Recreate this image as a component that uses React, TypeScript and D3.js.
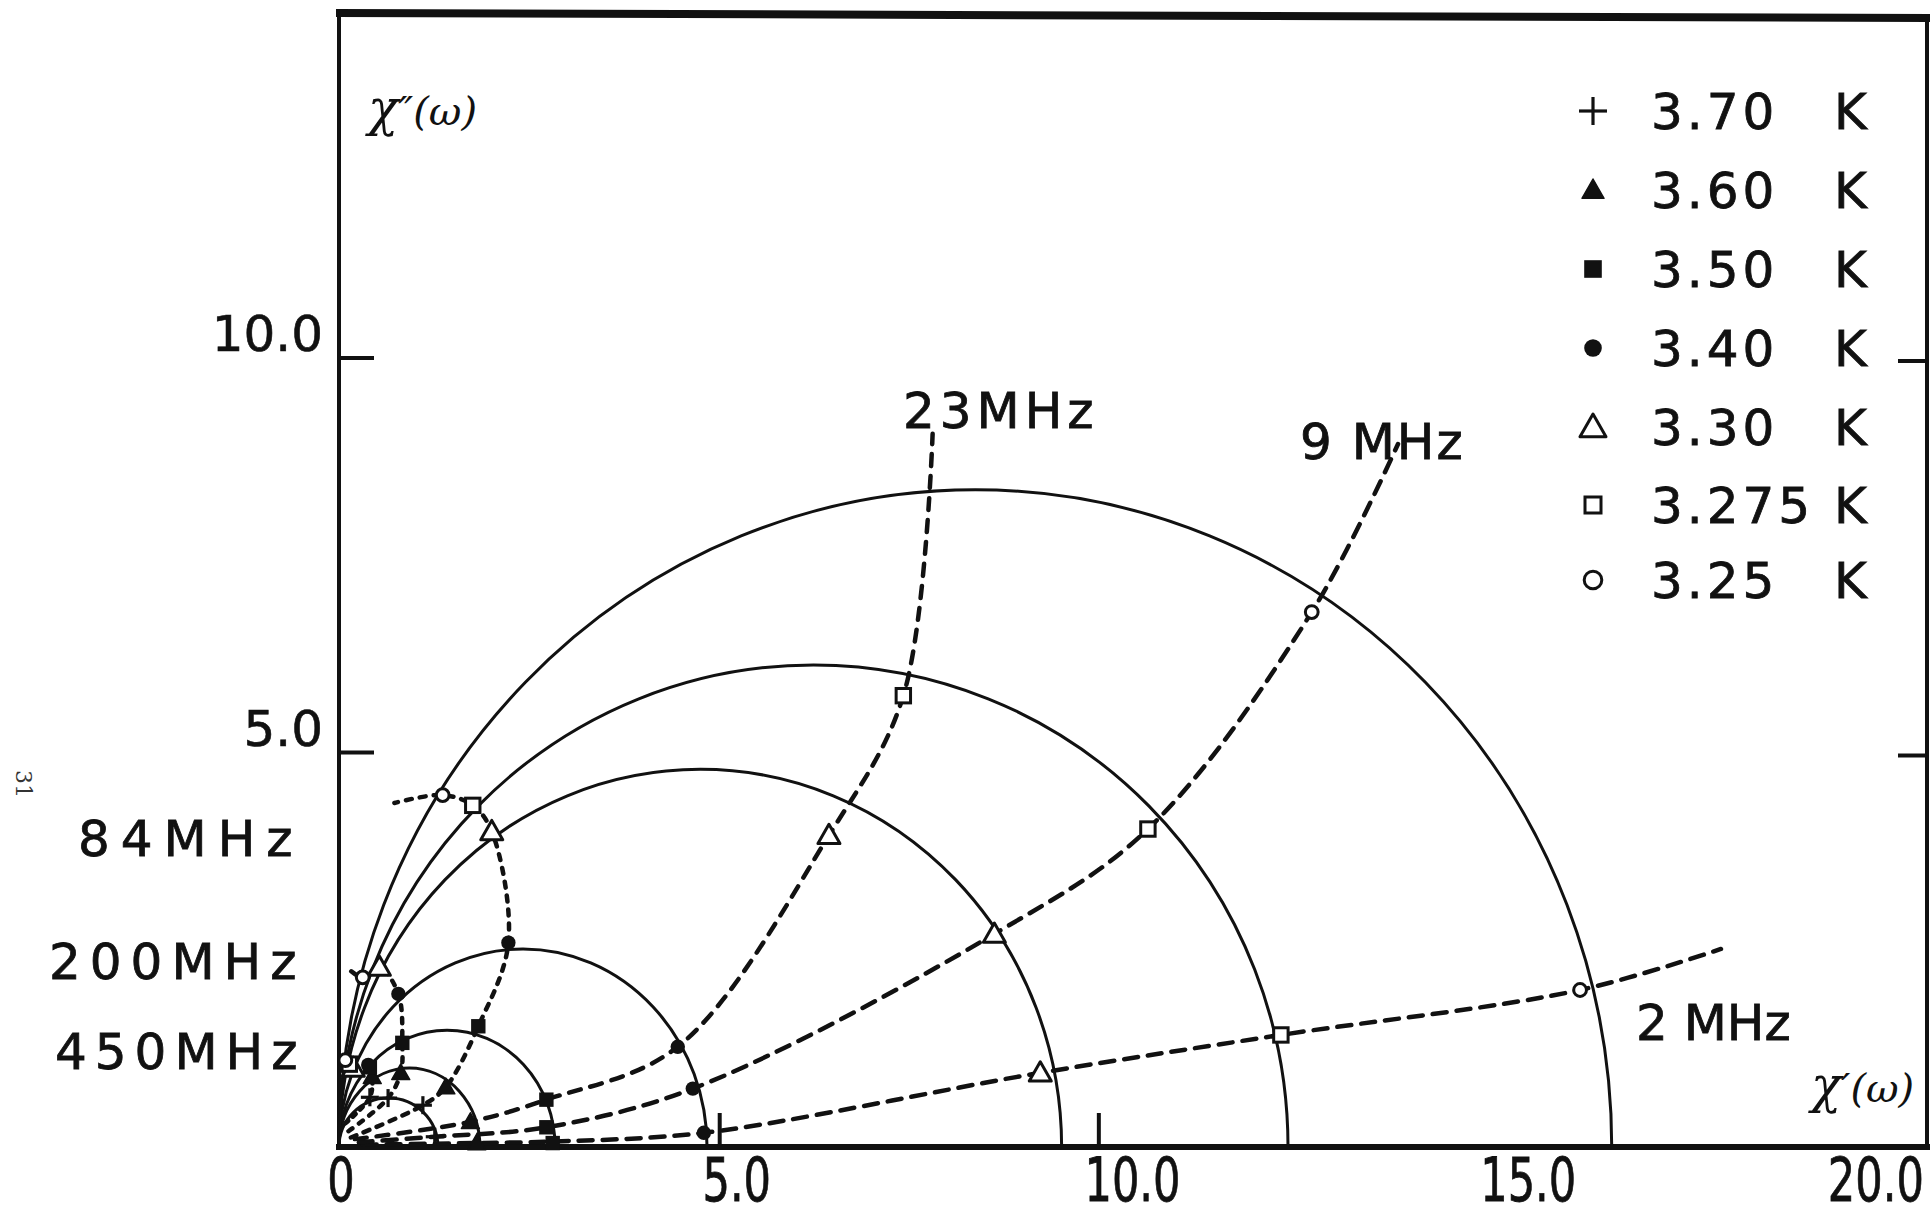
import React from "react";
import * as d3 from "d3";

// ---------- data ----------
const temperatures = ["3.70", "3.60", "3.50", "3.40", "3.30", "3.275", "3.25"];
const symbolKinds = ["plus", "triFill", "sqFill", "circFill", "triOpen", "sqOpen", "circOpen"];
// fitted Cole-Cole arcs: end point on chi' axis and apex height
const arcEnds = [1.25, 1.78, 2.73, 4.65, 9.13, 11.99, 16.08];
const arcHeights = [0.62, 1.0, 1.48, 2.51, 4.79, 6.11, 8.33];

// measured points [chi', chi''] per temperature
const pts370 = [[1.21, 0.13], [1.06, 0.53], [0.62, 0.62], [0.39, 0.63]];
const pts360 = [[1.74, 0.05], [1.66, 0.32], [1.35, 0.76], [0.78, 0.94], [0.42, 0.89]];
const pts350 = [[2.70, 0.05], [2.62, 0.25], [2.62, 0.60], [1.76, 1.53], [0.80, 1.32], [0.39, 1.01]];
const pts340 = [[4.61, 0.18], [4.47, 0.74], [4.28, 1.27], [2.14, 2.59], [0.75, 1.94], [0.37, 1.04]];
const pts330 = [[8.86, 0.94], [8.28, 2.70], [6.19, 3.95], [1.93, 4.0], [0.51, 2.28], [0.18, 1.0]];
const pts3275 = [[11.90, 1.42], [10.22, 4.03], [7.13, 5.72], [1.69, 4.33], [0.13, 1.05]];
const pts325 = [[15.68, 1.99], [12.29, 6.78], [1.31, 4.46], [0.30, 2.15], [0.08, 1.10]];
const seriesPoints = [pts370, pts360, pts350, pts340, pts330, pts3275, pts325];

// constant-frequency lines
const line2 = [[0.3, 0.03], [1.74, 0.05], [2.70, 0.07], [4.61, 0.18], [8.86, 0.94], [11.90, 1.42], [15.68, 1.99], [17.46, 2.51]];
const line9 = [[0.25, 0.06], [1.21, 0.13], [2.62, 0.25], [4.47, 0.74], [8.28, 2.70], [10.22, 4.03], [12.29, 6.78], [13.38, 8.91]];
const line23 = [[0.2, 0.1], [1.66, 0.32], [2.62, 0.60], [4.28, 1.27], [6.19, 3.95], [7.13, 5.72], [7.50, 9.04]];
const line84 = [[0.15, 0.12], [1.06, 0.53], [1.35, 0.76], [1.76, 1.53], [2.14, 2.59], [1.93, 4.0], [1.69, 4.33], [1.31, 4.46], [0.70, 4.36]];
const line200 = [[0.12, 0.2], [0.62, 0.62], [0.78, 0.94], [0.80, 1.32], [0.75, 1.94], [0.51, 2.28], [0.30, 2.15], [0.15, 2.23]];
const line450 = [[0.08, 0.3], [0.39, 0.63], [0.42, 0.89], [0.39, 1.01], [0.37, 1.04], [0.18, 1.0], [0.08, 1.10], [0.02, 1.12]];
const freqLines = [line2, line9, line23, line84, line200, line450];
const freqDash = ["14 10", "14 10", "12 10", "6 8", "5 8", "4 6"];

const freqLabels = ["2 MHz", "9 MHz", "23MHz", "84MHz", "200MHz", "450MHz"];
const xTickLabels = ["0", "5.0", "10.0", "15.0", "20.0"];
const xTickValues = [0, 5, 10, 15, 20];
const yTickLabels = ["5.0", "10.0"];
const yTickValues = [5, 10];
const xTickMarks = [4.81, 9.6];

// ---------- layout ----------
const W = 1932;
const H = 1216;
const x = d3.scaleLinear().domain([0, 20]).range([339, 1922]);
const y = d3.scaleLinear().domain([0, 10]).range([1147, 358]);

const sans = "'DejaVu Sans', 'Noto Sans', sans-serif";
const serif = "'DejaVu Serif', 'Liberation Serif', serif";
const ink = "#111";

function Marker({ kind, cx, cy, s }: { kind: string; cx: number; cy: number; s: number }) {
  const sw = 3;
  if (kind === "plus")
    return (
      <g stroke={ink} strokeWidth={3.2}>
        <line x1={cx - s} x2={cx + s} y1={cy} y2={cy} />
        <line x1={cx} x2={cx} y1={cy - s} y2={cy + s} />
      </g>
    );
  if (kind === "triFill" || kind === "triOpen") {
    const p = `${cx},${cy - s} ${cx + s * 1.0},${cy + s * 0.75} ${cx - s * 1.0},${cy + s * 0.75}`;
    return kind === "triFill" ? (
      <polygon points={p} fill={ink} stroke={ink} strokeWidth={1.5} strokeLinejoin="round" />
    ) : (
      <polygon points={p} fill="#fff" stroke={ink} strokeWidth={sw} strokeLinejoin="round" />
    );
  }
  if (kind === "sqFill" || kind === "sqOpen") {
    const a = s * 0.8;
    return kind === "sqFill" ? (
      <rect x={cx - a} y={cy - a} width={2 * a} height={2 * a} fill={ink} />
    ) : (
      <rect x={cx - a} y={cy - a} width={2 * a} height={2 * a} fill="#fff" stroke={ink} strokeWidth={sw} />
    );
  }
  const r = s * 0.8;
  return kind === "circFill" ? (
    <circle cx={cx} cy={cy} r={r} fill={ink} />
  ) : (
    <circle cx={cx} cy={cy} r={r} fill="#fff" stroke={ink} strokeWidth={sw} />
  );
}

export default function App() {
  const lineGen = d3
    .line<number[]>()
    .x((d) => x(d[0]))
    .y((d) => y(d[1]))
    .curve(d3.curveCatmullRom.alpha(0.5));

  const legendRowsY = [111, 190, 269, 348, 427, 505, 580];
  const legendSizes = [14, 11, 11, 11, 13, 10, 11];
  const markerSizes = [9, 9, 9, 9, 11, 9, 8];

  const freqLabelPos = [
    [1636, 1040, 0],
    [1300, 459, 2],
    [903, 428, 5],
    [78, 856, 11],
    [49, 979, 9],
    [55, 1069, 8],
  ];

  return (
    <svg width={W} height={H} style={{ display: "block", position: "absolute", left: 0, top: 0, background: "#fff" }}>
      <rect width={W} height={H} fill="#fff" />
      {/* frame */}
      <g stroke={ink} fill="none">
        <line x1={339} x2={339} y1={10} y2={1150} strokeWidth={4} />
        <line x1={336} x2={1930} y1={13} y2={18} strokeWidth={8} />
        <line x1={1927} x2={1927} y1={14} y2={1150} strokeWidth={4} />
        <line x1={336} x2={1930} y1={1147} y2={1147} strokeWidth={6} />
        {yTickValues.map((v) => (
          <g key={v}>
            <line x1={339} x2={374} y1={y(v)} y2={y(v)} strokeWidth={4} />
            <line x1={1898} x2={1927} y1={y(v) + 3} y2={y(v) + 3} strokeWidth={4} />
          </g>
        ))}
        {xTickMarks.map((v) => (
          <line key={v} x1={x(v)} x2={x(v)} y1={1113} y2={1147} strokeWidth={4} />
        ))}
      </g>

      {/* arcs */}
      <g fill="none" stroke={ink} strokeWidth={3}>
        {arcEnds.map((c, i) => {
          const rx = x(c / 2) - x(0);
          const ry = y(0) - y(arcHeights[i]);
          return <path key={i} d={`M ${x(0)} ${y(0)} A ${rx} ${ry} 0 0 1 ${x(c)} ${y(0)}`} />;
        })}
      </g>

      {/* constant frequency lines */}
      <g fill="none" stroke={ink} strokeWidth={4.5} strokeLinecap="round">
        {freqLines.map((ln, i) => (
          <path key={i} d={lineGen(ln) || ""} strokeDasharray={freqDash[i]} />
        ))}
      </g>

      {/* data markers */}
      {seriesPoints.map((pts, i) =>
        pts.map((p, j) => (
          <Marker key={`${i}-${j}`} kind={symbolKinds[i]} cx={x(p[0])} cy={y(p[1])} s={markerSizes[i]} />
        ))
      )}

      {/* legend */}
      {temperatures.map((t, i) => (
        <g key={t}>
          <Marker kind={symbolKinds[i]} cx={1593} cy={legendRowsY[i]} s={legendSizes[i]} />
          <text x={1651} y={legendRowsY[i] + 18} fontFamily={sans} fontSize={50} letterSpacing={4} fill={ink} stroke={ink} strokeWidth={0.8}>
            {t}
          </text>
          <text x={1834} y={legendRowsY[i] + 18} fontFamily={sans} fontSize={50} fill={ink} stroke={ink} strokeWidth={0.8}>
            K
          </text>
        </g>
      ))}

      {/* frequency labels */}
      {freqLabels.map((f, i) => (
        <text
          key={f}
          x={freqLabelPos[i][0]}
          y={freqLabelPos[i][1]}
          fontFamily={sans}
          fontSize={50}
          letterSpacing={freqLabelPos[i][2]}
          fill={ink}
          stroke={ink}
          strokeWidth={0.8}
        >
          {f}
        </text>
      ))}

      {/* y tick labels */}
      {yTickValues.map((v, i) => (
        <text key={v} x={323} y={y(v) - 7} textAnchor="end" fontFamily={sans} fontSize={50} fill={ink} stroke={ink} strokeWidth={0.6}>
          {yTickLabels[i]}
        </text>
      ))}

      {/* x tick labels (tall, condensed) */}
      {xTickValues.map((v, i) => {
        const last = i === xTickValues.length - 1;
        return (
          <text
            key={v}
            transform={`translate(${last ? 1924 : x(v) + 2}, 1201) scale(0.72, 1)`}
            textAnchor={last ? "end" : "middle"}
            fontFamily={sans}
            fontSize={60}
            fill={ink}
            stroke={ink}
            strokeWidth={0.8}
          >
            {xTickLabels[i]}
          </text>
        );
      })}

      {/* axis titles */}
      <text x={368} y={125} fontFamily={serif} fontStyle="italic" fontSize={40} fill={ink}>
        <tspan fontSize={50}>χ</tspan>″(ω)
      </text>
      <text x={1811} y={1102} fontFamily={serif} fontStyle="italic" fontSize={40} fill={ink}>
        <tspan fontSize={50}>χ</tspan>′(ω)
      </text>

      {/* page number */}
      <text transform="translate(16, 770) rotate(90)" fontFamily={serif} fontSize={22} fill="#333">
        31
      </text>
    </svg>
  );
}
